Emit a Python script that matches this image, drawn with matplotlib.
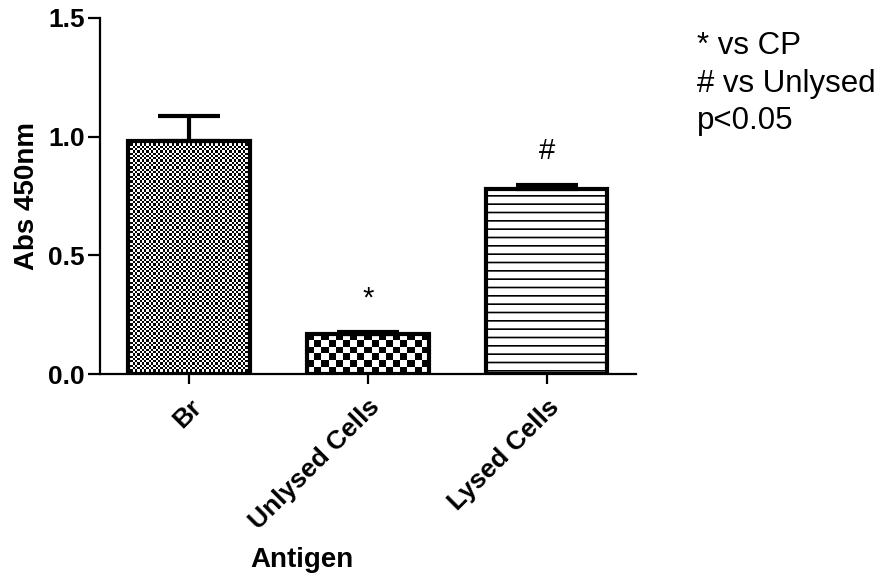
import numpy as np
import matplotlib
matplotlib.use("Agg")
import matplotlib.pyplot as plt

# values
antigens = ["Br", "Unlysed Cells", "Lysed Cells"]
abs_means = [0.98, 0.17, 0.778]
abs_sem = [0.108, 0.008, 0.02]
sig_marks = ["", "*", "#"]
note_lines = ["* vs CP", "# vs Unlysed", "p<0.05"]

plt.rcParams['font.family'] = ['Liberation Sans', 'DejaVu Sans']
plt.rcParams['hatch.linewidth'] = 1.2

fig = plt.figure(figsize=(8.92, 5.79), dpi=100)
ax = fig.add_axes([0.112, 0.354, 0.601, 0.615])

x = np.arange(len(antigens))
ax.set_xlim(-0.5, 2.5)
ax.set_ylim(0, 1.5)

bars = ax.bar(x, abs_means, width=0.68, facecolor='white', edgecolor='black',
              linewidth=3, zorder=3)
bars[0].set_facecolor('none')
bars[1].set_facecolor('none')
bars[2].set_hatch('--')

# checkerboard fills for the first two bars (cell size in pixels)
for bar, cell in [(bars[0], 2.3), (bars[1], 7.0)]:
    bb = bar.get_window_extent()
    ncol = max(1, int(round(bb.width / cell)))
    nrow = max(1, int(round(bb.height / cell)))
    board = (np.add.outer(np.arange(nrow), np.arange(ncol)) % 2).astype(float)
    x0 = bar.get_x()
    im = ax.imshow(board, cmap='gray', vmin=0, vmax=1, interpolation='nearest',
                   extent=[x0, x0 + bar.get_width(), 0, bar.get_height()],
                   aspect='auto', zorder=2)
    im.set_clip_path(bar)

ax.errorbar(x, abs_means, yerr=[[0] * len(x), abs_sem], fmt='none', ecolor='black',
            elinewidth=3, capsize=22, capthick=3, zorder=4)

ax.set_xlim(-0.5, 2.5)
ax.set_ylim(0, 1.5)

# significance marks above bars
for xi, m, e, s in zip(x, abs_means, abs_sem, sig_marks):
    if s:
        ax.text(xi, m + e + 0.14, s, ha='center', va='center', fontsize=21)

for side in ['top', 'right']:
    ax.spines[side].set_visible(False)
for side in ['left', 'bottom']:
    ax.spines[side].set_linewidth(1.6)

ax.set_yticks([0, 0.5, 1.0, 1.5])
ax.set_yticklabels(["0.0", "0.5", "1.0", "1.5"])
ax.tick_params(axis='y', length=9, width=1.6, labelsize=19, pad=2)
ax.tick_params(axis='x', length=7, width=1.6, labelsize=19, pad=8)
for lab in ax.get_yticklabels():
    lab.set_fontweight('bold')
ax.set_xticks(x)
ax.set_xticklabels(antigens, rotation=45, ha='right', rotation_mode='anchor',
                   fontweight='bold')

ax.set_ylabel("Abs 450nm", fontsize=20, fontweight='bold')
ax.set_xlabel("Antigen", fontsize=20, fontweight='bold')
ax.xaxis.set_label_coords(0.377, -0.485)
ax.yaxis.set_label_coords(-0.112, 0.5)

fig.text(0.781, 0.946, "\n".join(note_lines), fontsize=22.5, va='top', ha='left',
         linespacing=1.32)

fig.savefig("out.png", dpi=100)
